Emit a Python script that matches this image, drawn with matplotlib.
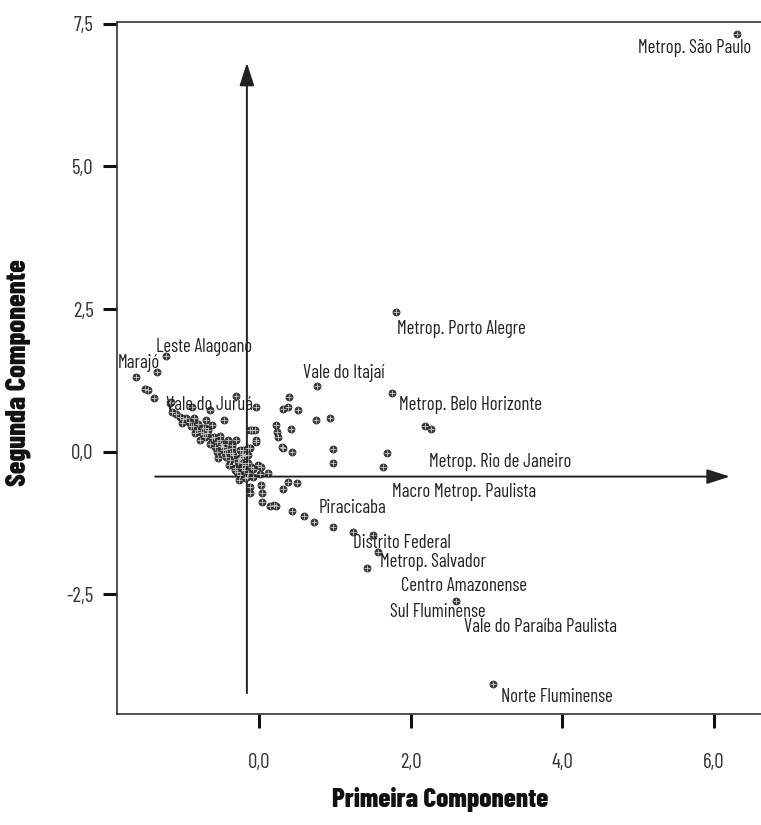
import matplotlib
matplotlib.use("Agg")
import matplotlib.pyplot as plt
from matplotlib.ticker import FuncFormatter

plt.rcParams['font.family'] = ['Barlow Condensed', 'DejaVu Sans']

# scores of the micro-regions on the first two principal components
comp1 = [
    6.30, 1.80, 0.77, 1.76, 2.19, 2.27, 1.69, 1.64, 0.98, 0.97, 0.75, 0.93,
    0.40, 0.31, 0.38, 0.52, -0.09, -0.04, 0.23, 0.24, 0.25, 0.42, -0.04, 0.32,
    0.30, 0.44, -0.12, -0.21, -0.18, -0.01, 0.02, -0.08, 0.12, 0.01, -0.23, 0.38,
    0.50, 0.31, -0.12, -0.12, 0.02, 0.04, 0.04, 0.15, 0.22, 0.20, 0.43, 0.59,
    0.73, 0.97, 1.24, 1.50, 1.57, 1.42, 2.60, 3.08,
    -1.23, -1.34, -1.62, -1.50, -1.46, -1.38, -1.17, -1.15, -1.04, -1.02, -0.93, -0.89,
    -0.65, -0.70, -0.46, -0.30, -0.84, -0.82, -0.76, -0.71, -0.67, -0.71, -0.78, -0.60,
    -0.52, -0.51, -0.65, -0.49, -0.47, -0.36, -0.47, -0.56, -0.43, -0.45, -0.38, -0.34,
    -0.25, -0.14, -0.14, -0.21, -0.38, -0.25, -0.54, -0.40, -0.32, -0.23, -0.18, -0.10,
    -0.32, -0.25, -0.14, -0.18, -0.26, -0.16, -0.12, -0.05, -0.04,
    -0.96, -0.87, -0.80, -0.62, -0.58, -0.41, -0.30, -0.28, -0.36, -1.16, -0.86, -0.74,
    -1.10, -1.00, -0.90, -0.74, -0.68, -0.55, -0.50, -0.42, -0.35, -0.27, -0.20, -0.22,
    -0.08, -0.15, -0.29, -0.62,
]
comp2 = [
    7.32, 2.45, 1.15, 1.02, 0.45, 0.39, -0.03, -0.28, 0.04, -0.20, 0.56, 0.58,
    0.95, 0.74, 0.78, 0.72, 0.38, 0.78, 0.46, 0.35, 0.25, 0.39, 0.17, 0.06,
    0.08, 0.00, 0.07, 0.03, -0.06, -0.24, -0.28, -0.31, -0.37, -0.40, -0.29, -0.53,
    -0.55, -0.65, -0.63, -0.73, -0.59, -0.73, -0.88, -0.96, -0.96, -0.94, -1.04, -1.14,
    -1.23, -1.32, -1.42, -1.46, -1.76, -2.05, -2.62, -4.08,
    1.68, 1.39, 1.30, 1.10, 1.08, 0.94, 0.85, 0.70, 0.61, 0.50, 0.51, 0.78,
    0.72, 0.55, 0.55, 0.97, 0.33, 0.38, 0.35, 0.41, 0.38, 0.26, 0.20, 0.26,
    0.27, 0.20, 0.14, 0.14, 0.08, 0.11, 0.03, -0.01, -0.09, -0.02, -0.03, -0.06,
    0.03, 0.06, -0.06, -0.08, -0.15, -0.12, -0.12, -0.24, -0.29, -0.21, -0.24, -0.27,
    -0.32, -0.41, -0.38, -0.47, -0.50, -0.45, 0.38, 0.38, 0.20,
    0.59, 0.45, 0.48, 0.46, 0.08, 0.20, 0.20, -0.18, 0.06, 0.86, 0.58, 0.42,
    0.66, 0.57, 0.44, 0.30, 0.33, 0.17, 0.10, 0.04, -0.02, -0.14, -0.33, -0.05,
    -0.45, -0.20, -0.36, 0.24,
]

labels = [
    'Metrop. São Paulo', 'Metrop. Porto Alegre', 'Vale do Itajaí',
    'Metrop. Belo Horizonte', 'Metrop. Rio de Janeiro', 'Macro Metrop. Paulista',
    'Piracicaba', 'Distrito Federal', 'Metrop. Salvador', 'Centro Amazonense',
    'Sul Fluminense', 'Vale do Paraíba Paulista', 'Norte Fluminense',
    'Leste Alagoano', 'Marajó', 'Vale do Juruá',
]
label_x = [6.49, 1.82, 0.58, 1.85, 2.24, 1.75, 0.78, 1.24, 1.60, 1.87, 1.73, 2.70, 3.19,
           -1.36, -1.86, -1.23]
label_y = [7.08, 2.15, 1.38, 0.82, -0.18, -0.71, -0.99, -1.60, -1.93, -2.36, -2.81, -3.07, -4.30,
           1.84, 1.55, 0.82]

# reference axes drawn as arrows
h_arrow = [(-1.37, -0.44), (6.21, -0.44)]
v_arrow = [(-0.16, -4.24), (-0.16, 6.82)]

xticks = [0, 2, 4, 6]
yticks = [-2.5, 0, 2.5, 5.0, 7.5]

fig = plt.figure(figsize=(7.61, 8.25), dpi=100)
ax = fig.add_axes([117 / 761, 1 - 714 / 825, 1 - 117 / 761, (714 - 22) / 825])

ax.scatter(comp1, comp2, s=26, marker='o', facecolor='#3c3c3c', edgecolor='#222222',
           linewidth=0.5, zorder=3)
ax.scatter(comp1, comp2, s=13, marker='+', color='#c8c8c8', linewidth=0.6, zorder=4)

for i, txt in enumerate(labels):
    ha = 'right' if i == 0 else 'left'
    ax.text(label_x[i], label_y[i], txt, ha=ha, va='center', fontsize=13.5,
            color='#222222', zorder=5)

ax.annotate('', xy=h_arrow[1], xytext=h_arrow[0],
            arrowprops=dict(arrowstyle='-|>,head_length=1.4,head_width=0.45',
                            color='#222222', lw=1.4, shrinkA=0, shrinkB=0))
ax.annotate('', xy=v_arrow[1], xytext=v_arrow[0],
            arrowprops=dict(arrowstyle='-|>,head_length=1.4,head_width=0.45',
                            color='#222222', lw=1.4, shrinkA=0, shrinkB=0))

ax.set_xlim(-1.873, 6.62)
ax.set_ylim(-4.605, 7.535)
ax.set_xticks(xticks)
ax.set_yticks(yticks)
comma = FuncFormatter(lambda v, p: f'{v:.1f}'.replace('.', ','))
ax.xaxis.set_major_formatter(comma)
ax.yaxis.set_major_formatter(comma)
ax.tick_params(direction='out', length=10, width=2.2, color='#111111',
               labelsize=15, labelcolor='#333333')
ax.tick_params(axis='x', pad=18)
ax.tick_params(axis='y', pad=7)

ax.spines['right'].set_visible(False)
for side in ['left', 'top', 'bottom']:
    ax.spines[side].set_linewidth(1.2)
    ax.spines[side].set_color('#333333')

fig.text(440 / 761, 1 - 800 / 825, 'Primeira Componente', ha='center', va='center',
         fontsize=19.5, fontweight='heavy', color='#111111')
fig.text(18 / 761, 1 - 373 / 825, 'Segunda Componente', ha='center', va='center',
         rotation=90, fontsize=20.5, fontweight='heavy', color='#111111')

plt.savefig('out.png', dpi=100, facecolor='white')
plt.close()
